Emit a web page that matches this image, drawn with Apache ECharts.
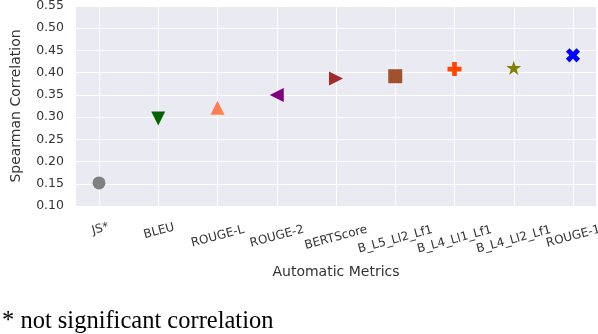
<!DOCTYPE html>
<html>
<head>
<meta charset="utf-8">
<style>
  html, body { margin: 0; padding: 0; background: #fff; }
  #chart { width: 598px; height: 334px; }
</style>
<script src="https://cdn.jsdelivr.net/npm/echarts@6/dist/echarts.min.js"></script>
</head>
<body>
<div id="chart"></div>
<script>
// metrics and their spearman correlation
var metrics = ['JS*', 'BLEU', 'ROUGE-L', 'ROUGE-2', 'BERTScore', 'B_L5_Ll2_Lf1', 'B_L4_Ll1_Lf1', 'B_L4_Ll2_Lf1', 'ROUGE-1'];
var spearman = [0.152, 0.297, 0.321, 0.350, 0.387, 0.392, 0.408, 0.411, 0.439];
var yTicks = [0.10, 0.15, 0.20, 0.25, 0.30, 0.35, 0.40, 0.45, 0.50, 0.55];
var footnote = '* not significant correlation';

// marker look per metric (matplotlib style markers)
var plusPath = 'path://M2,0H4V2H6V4H4V6H2V4H0V2H2Z';
var starPath = 'path://M50,0L61.2,34.5L97.6,34.5L68.2,55.9L79.4,90.5L50,69.1L20.6,90.5L31.8,55.9L2.4,34.5L38.8,34.5Z';
var markerSymbols = ['circle', 'triangle', 'triangle', 'triangle', 'triangle', 'rect', plusPath, starPath, plusPath];
var markerRotate  = [0, 180, 0, 90, -90, 0, 0, 0, 45];
var markerSizes   = [13, 14, 14, 14, 14, 14, 14, 15, 15];
var markerColors  = ['#808080', '#006400', '#FF7F50', '#800080', '#A52A2A', '#A0522D', '#FF4500', '#808000', '#0000FF'];

var textColor = '#333';
var myChart = echarts.init(document.getElementById('chart'));

// matplotlib puts the rotated bbox top at the tick, so longer labels sit lower
var ctx = document.createElement('canvas').getContext('2d');
ctx.font = '12px "DejaVu Sans"';
var xLabels = metrics.map(function (m) {
    var w = ctx.measureText(m).width;
    var p = Math.round(w * 0.175);
    return {
        value: m,
        textStyle: {
            align: 'center',
            verticalAlign: 'top',
            padding: [p, Math.round(p * 0.8), 0, 0]
        }
    };
});

var points = spearman.map(function (v, i) {
    return {
        value: [metrics[i], v],
        symbol: markerSymbols[i],
        symbolRotate: markerRotate[i],
        symbolSize: markerSizes[i],
        symbolKeepAspect: true,
        itemStyle: { color: markerColors[i], opacity: 1 }
    };
});

var option = {
    animation: false,
    grid: [
        { left: 76, right: 2, top: 6, bottom: 128, show: true, backgroundColor: '#EAEAF2', borderWidth: 0, containLabel: false, outerBoundsMode: 'none' },
        { left: 99, right: 25, top: 6, bottom: 128, containLabel: false, outerBoundsMode: 'none' }
    ],
    xAxis: [
        { gridIndex: 0, type: 'value', show: false, min: 0, max: 1 },
        {
            gridIndex: 1,
            type: 'category',
            data: xLabels,
            boundaryGap: false,
            axisLine: { show: false },
            axisTick: { show: false },
            splitLine: { show: true, lineStyle: { color: '#fff', width: 1 } },
            axisLabel: {
                interval: 0,
                rotate: 15,
                margin: 14,
                fontSize: 12,
                fontFamily: 'DejaVu Sans',
                color: textColor
            },
            name: 'Automatic Metrics',
            nameLocation: 'middle',
            nameGap: 59,
            nameTextStyle: { fontSize: 14, fontFamily: 'DejaVu Sans', color: textColor, verticalAlign: 'top' }
        }
    ],
    yAxis: [
        {
            gridIndex: 0,
            type: 'value',
            min: yTicks[0],
            max: yTicks[yTicks.length - 1],
            interval: 0.05,
            axisLine: { show: false },
            axisTick: { show: false },
            splitLine: { show: true, lineStyle: { color: '#fff', width: 1 } },
            axisLabel: {
                margin: 12,
                fontSize: 12.5,
                fontFamily: 'DejaVu Sans',
                color: textColor,
                formatter: function (v) { return v.toFixed(2); }
            },
            name: 'Spearman Correlation',
            nameLocation: 'middle',
            nameGap: 53,
            nameTextStyle: { fontSize: 14, fontFamily: 'DejaVu Sans', color: textColor }
        },
        {
            gridIndex: 1,
            type: 'value',
            show: false,
            min: yTicks[0],
            max: yTicks[yTicks.length - 1]
        }
    ],
    graphic: [{
        type: 'text',
        left: 2,
        top: 309,
        style: {
            text: footnote,
            font: '24.5px "Liberation Serif"',
            fill: '#000'
        }
    }],
    series: [{
        type: 'scatter',
        xAxisIndex: 1,
        yAxisIndex: 1,
        data: points
    }]
};
myChart.setOption(option);
</script>
</body>
</html>
